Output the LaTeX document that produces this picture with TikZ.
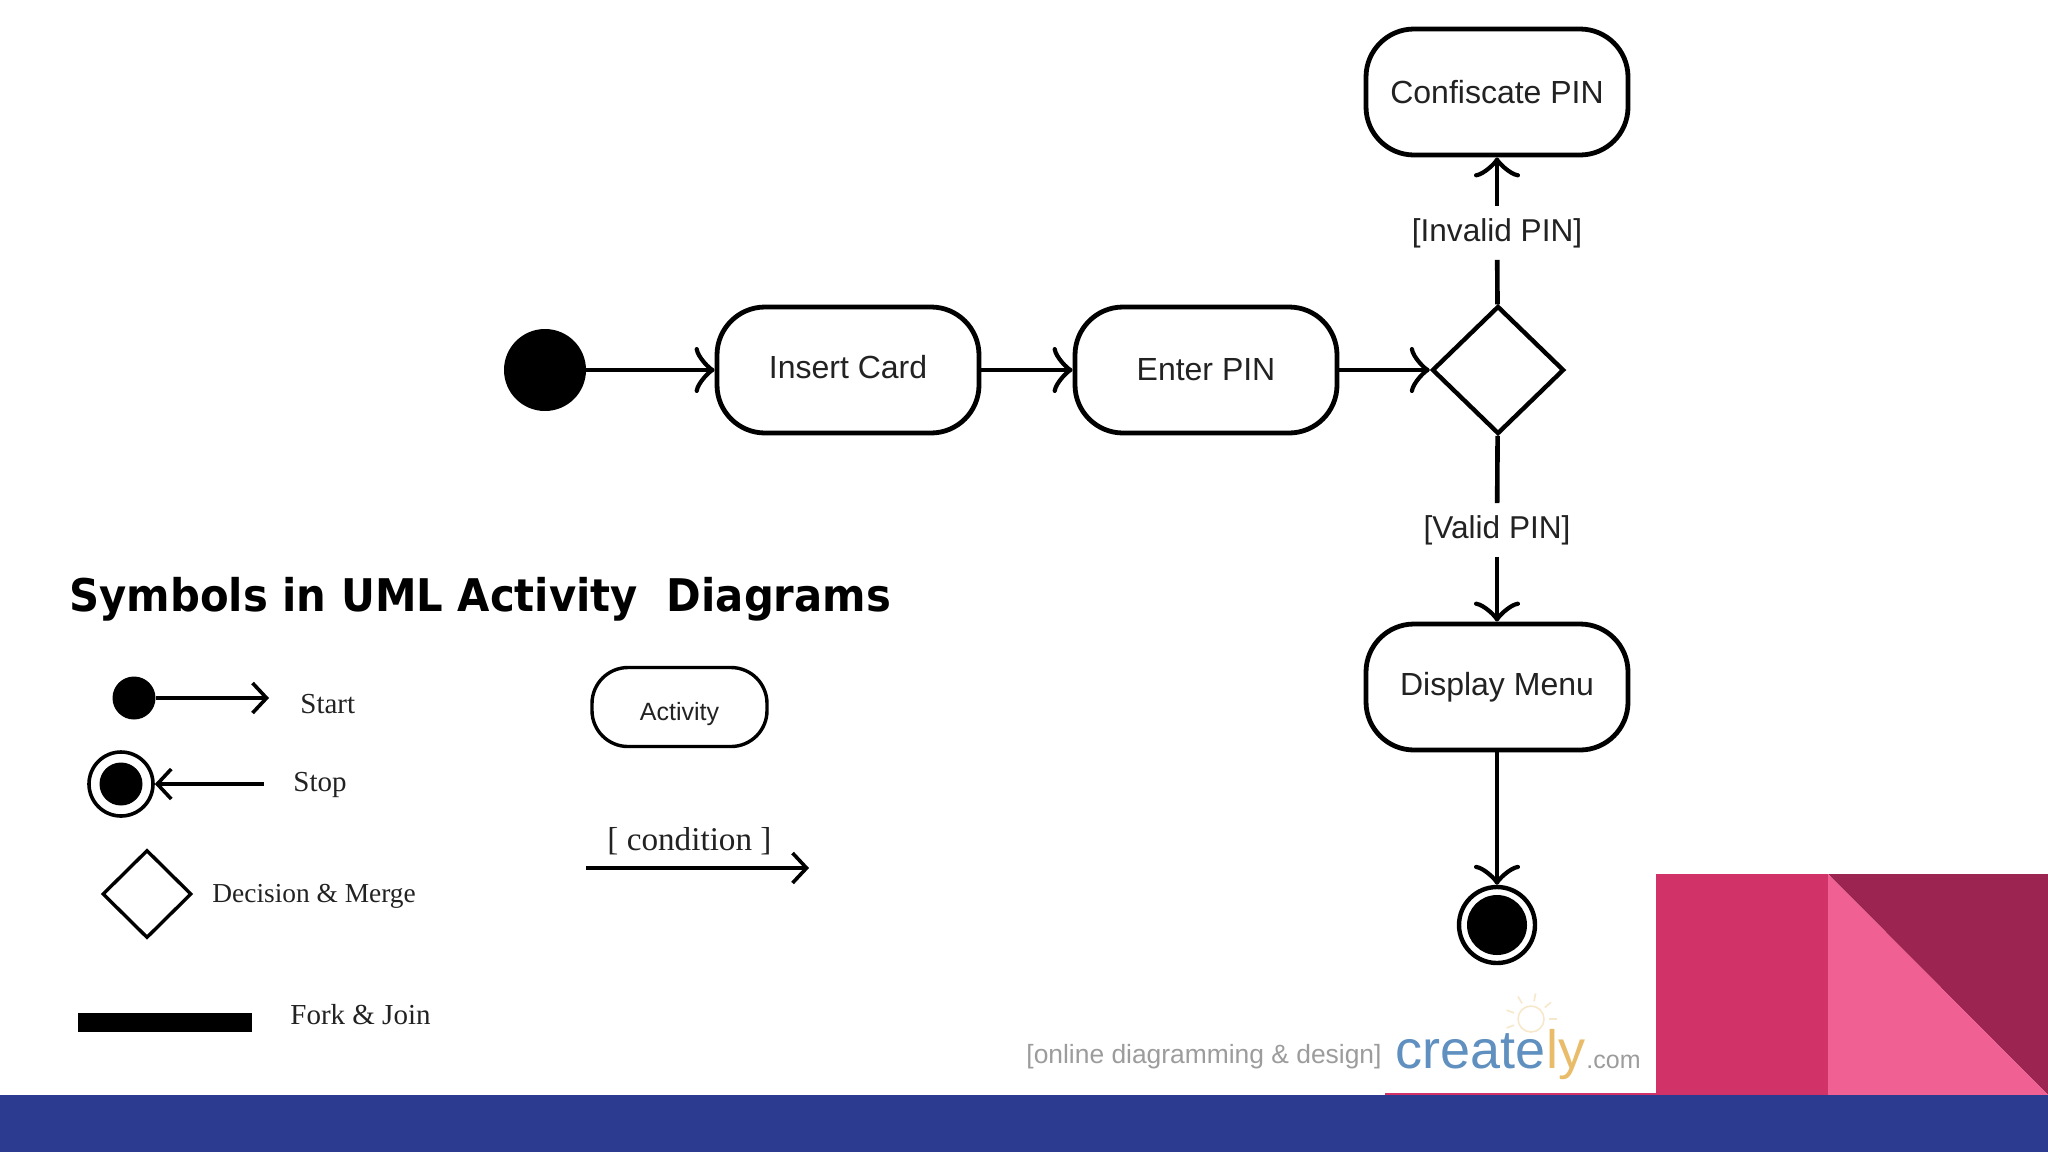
\documentclass[tikz,border=0pt]{standalone}
\usepackage{fontspec}
\setmainfont{Liberation Sans}
\newfontfamily\serifface{Liberation Serif}
\newfontfamily\titleface{DejaVu Sans}
\usetikzlibrary{shapes.geometric,arrows.meta}
\definecolor{navy}{HTML}{2C3A8F}
\definecolor{crimson}{HTML}{D13268}
\definecolor{wine}{HTML}{9C2450}
\definecolor{rosy}{HTML}{F06092}
\definecolor{inkc}{HTML}{222222}
\definecolor{logoblue}{HTML}{5F90BF}
\definecolor{logoamber}{HTML}{E9BC6A}
\definecolor{logogrey}{HTML}{9C9C9C}
\tikzset{
  x=0.5pt,y=-0.5pt,
  activity/.style={draw=black,line width=2.4pt,rounded corners=24pt,minimum width=131pt,minimum height=63pt,inner sep=0pt,text=inkc,font=\fontsize{16}{18}\selectfont},
  decision/.style={draw=black,line width=2.2pt,shape=diamond,aspect=1,inner sep=0pt,minimum width=66pt,minimum height=64pt},
  guard/.style={font=\fontsize{15.8}{18}\selectfont,text=inkc,inner sep=0pt,minimum height=26.5pt,minimum width=60pt},
  flow/.style={line width=2.3pt,-{Classical TikZ Rightarrow[length=10pt,width=23pt,line width=2.1pt]}},
  plain/.style={line width=2.3pt},
  keyflow/.style={line width=1.8pt,-{Straight Barb[length=7pt,width=15pt,line width=1.8pt]}},
  keytext/.style={font=\serifface\fontsize{14.5}{17}\selectfont,anchor=base west,inner sep=0pt,text=inkc},
  dot/.style={circle,fill=black,inner sep=0pt},
  ring/.style={circle,draw=black,fill=white,inner sep=0pt},
  logotext/.style={anchor=base west,inner sep=0pt},
}
\begin{document}
\begin{tikzpicture}
\useasboundingbox (0,0) rectangle (2048,1152);
\fill[white] (0,0) rectangle (2048,1152);
% decorative band
\fill[crimson] (1656,874) rectangle (1828,1095);
\fill[wine] (1828,874) -- (2048,874) -- (2048,1095) -- cycle;
\fill[rosy] (1828,874) -- (2048,1095) -- (1828,1095) -- cycle;
\fill[crimson] (1385,1093) rectangle (1656,1095);
\fill[navy] (0,1095) rectangle (2048,1152);
% main flow
\node[dot,minimum size=41pt] (start) at (545,370) {};
\node[activity] (insert) at (848,370) {\raisebox{-4.4pt}[0pt][0pt]{Insert Card}};
\node[activity] (enter) at (1206,370) {Enter PIN};
\node[decision] (choice) at (1498,370) {};
\node[activity] (confiscate) at (1497,92) {Confiscate PIN};
\node[activity] (menu) at (1497,687) {Display Menu};
\node[guard] (invalid) at (1497,233) {[Invalid PIN]};
\node[guard] (valid) at (1497,530) {[Valid PIN]};
\node[ring,line width=2.2pt,minimum size=38pt] (stopring) at (1497,925) {};
\node[dot,minimum size=30pt] (stopdot) at (1497,925) {};
\draw[flow] (start) -- (insert);
\draw[flow] (insert) -- (enter);
\draw[flow] (enter) -- (choice);
\draw[plain] (choice) -- (invalid);
\draw[flow] (invalid) -- (confiscate);
\draw[plain] (choice) -- (valid);
\draw[flow] (valid) -- (menu);
\draw[flow] (menu) -- (stopring);
% legend
\node[anchor=base west,inner sep=0pt,font=\titleface\bfseries\fontsize{22.5}{26}\selectfont,text=black] (title) at (69,611) {\scalebox{0.928}[1]{Symbols in UML Activity\ \ Diagrams}};
\node[dot,minimum size=21.5pt] (keystart) at (134,698) {};
\coordinate (keystartend) at (269,698);
\draw[keyflow] (keystart) -- (keystartend);
\node[keytext] (starttext) at (300,713) {Start};
\node[ring,line width=1.8pt,minimum size=32pt] (keyring) at (121,784) {};
\node[dot,minimum size=21.5pt] (keydot) at (121,784) {};
\coordinate (keystopend) at (264,784);
\draw[keyflow] (keystopend) -- (keyring);
\node[keytext] (stoptext) at (293,791) {Stop};
\node[draw=black,line width=1.7pt,shape=diamond,aspect=1,inner sep=0pt,minimum width=44.5pt,minimum height=44pt] (keydecision) at (147,894) {};
\node[keytext,font=\serifface\fontsize{13.7}{16}\selectfont] (decisiontext) at (212,902) {Decision \& Merge};
\node[fill=black,inner sep=0pt,minimum width=87pt,minimum height=9.5pt] (keybar) at (164.5,1022.5) {};
\node[keytext] (forktext) at (290,1024) {Fork \& Join};
\node[activity,line width=1.7pt,rounded corners=18pt,minimum width=87.5pt,minimum height=39.5pt,font=\fontsize{12.5}{15}\selectfont] (keyactivity) at (679.5,707) {\raisebox{-6.5pt}[0pt][0pt]{Activity}};
\node[keytext,font=\serifface\fontsize{16.6}{19}\selectfont] (conditiontext) at (607,850) {[ condition ]};
\coordinate (keyfrom) at (586,868);
\coordinate (keyto) at (809,868);
\draw[keyflow] (keyfrom) -- (keyto);
% logo
\node[logotext,font=\fontsize{13.2}{15}\selectfont,text=logogrey] (tagline) at (1026,1063) {[online diagramming \& design]};
\node[logotext,font=\fontsize{27}{30}\selectfont,text=logoblue] (logoa) at (1395,1068) {create};
\node[logotext,font=\fontsize{27}{30}\selectfont,text=logoamber,anchor=base west] (logob) at (logoa.base east) {ly};
\node[logotext,font=\fontsize{12.5}{15}\selectfont,text=logogrey] (logoc) at (1586,1068) {.com};
\draw[logoamber!35,line width=0.8pt] (1531,1019) circle (13);
\foreach \a in {200,240,280,320,0,160}
  \draw[logoamber!35,line width=0.8pt] (1531,1019) ++(\a:18) -- ++(\a:8);
\end{tikzpicture}
\end{document}
